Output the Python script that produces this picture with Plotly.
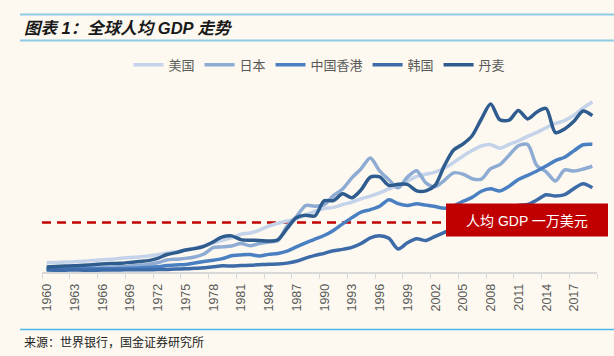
import plotly.graph_objects as go

# ---------------- data (GDP per capita, current US$) ----------------
years = list(range(1960, 2020))

usa = [3007, 3067, 3244, 3375, 3574, 3828, 4146, 4336, 4696, 5032,
       5234, 5609, 6094, 6726, 7226, 7801, 8592, 9453, 10565, 11674,
       12575, 13976, 14434, 15544, 17121, 18237, 19071, 20039, 21417, 22857,
       23889, 24342, 25419, 26387, 27695, 28691, 29968, 31459, 32854, 34515,
       36330, 37134, 37998, 39490, 41725, 44123, 46302, 48050, 48570, 47195,
       48651, 50066, 51784, 53291, 55124, 56763, 57867, 59915, 62805, 65095]

japan = [479, 564, 634, 718, 835, 919, 1059, 1229, 1451, 1669,
         2038, 2272, 2967, 3998, 4354, 4659, 5198, 6335, 8821, 9105,
         9463, 10361, 9578, 10425, 10984, 11585, 17112, 20745, 25052, 24813,
         25359, 28925, 31465, 35766, 39269, 43440, 38437, 35022, 31903, 36027,
         38532, 33846, 32289, 34808, 37689, 37218, 35434, 35275, 39339, 40855,
         44508, 48168, 48603, 40454, 38109, 34524, 38795, 38387, 39159, 40247]

hongkong = [429, 426, 466, 545, 579, 648, 660, 692, 710, 825,
            959, 1102, 1385, 1889, 2110, 2253, 2844, 3418, 3924, 4569,
            5700, 6000, 6130, 5595, 6208, 6543, 7436, 9071, 10610, 12098,
            13486, 15466, 17976, 20396, 22503, 23497, 24818, 27330, 25809, 25092,
            25757, 25230, 24666, 23977, 24928, 26650, 28224, 30594, 31516, 30697,
            32550, 35142, 36731, 38404, 40315, 42432, 43731, 46193, 48543, 48756]

korea = [158, 94, 106, 146, 124, 109, 133, 161, 198, 243,
         279, 301, 324, 406, 563, 616, 834, 1055, 1405, 1783,
         1715, 1883, 1993, 2199, 2413, 2482, 2835, 3555, 4749, 5817,
         6610, 7637, 8127, 8885, 10385, 12565, 13403, 12398, 8282, 10672,
         12257, 11561, 13165, 14673, 16496, 19403, 21743, 24086, 21350, 19144,
         23087, 25096, 25467, 27182, 29250, 28737, 29274, 31601, 33447, 31902]

denmark = [1364, 1504, 1676, 1767, 2013, 2238, 2451, 2640, 2771, 3108,
           3463, 3791, 4662, 6141, 6876, 7870, 8429, 9334, 11014, 12941,
           13354, 11912, 11641, 11591, 11331, 11870, 16223, 20356, 21285, 21032,
           26891, 26938, 29597, 28075, 31153, 36038, 36127, 32830, 33257, 33221,
           30744, 30752, 32891, 40459, 46511, 48800, 52027, 58487, 64322, 58163,
           58041, 61754, 58507, 61191, 62549, 53255, 54664, 57610, 61591, 59775]

series_names = ["美国", "日本", "中国香港", "韩国", "丹麦"]
series_values = [usa, japan, hongkong, korea, denmark]
series_colors = ["#C4D3EA", "#8EABD3", "#4A80C2", "#3D6BA7", "#2F5C8E"]

# reference line, placed where the source draws it
ref_line_x = [1959.5, 2004.0]
ref_line_value = 18500
ref_label = "人均 GDP 一万美元"

tick_labels = [str(y) for y in range(1960, 2020, 3)]
tick_positions = [y - 0.5 for y in range(1960, 2021, 3)]
tick_text = tick_labels + [""]

title_text = "图表 1：全球人均 GDP 走势"
source_text = "来源：世界银行，国金证券研究所"

BG = "#FDF9F0"
CJK = "Noto Sans CJK SC, Noto Sans, sans-serif"

fig = go.Figure()

fig.add_trace(go.Scatter(
    x=ref_line_x, y=[ref_line_value, ref_line_value], mode="lines",
    line=dict(color="#C00000", width=2.5, dash="9px,6px"),
    showlegend=False, hoverinfo="skip"))

for name, vals, col in zip(series_names, series_values, series_colors):
    fig.add_trace(go.Scatter(
        x=years, y=vals, name=name, mode="lines",
        line=dict(color=col, width=3.5, shape="spline", smoothing=0.8)))

fig.update_layout(
    width=614, height=356,
    margin=dict(l=42, r=17, t=91, b=84),
    paper_bgcolor=BG, plot_bgcolor=BG,
    showlegend=True,
    legend=dict(orientation="h", x=0.5, xanchor="center",
                y=1.145, yanchor="middle",
                font=dict(family=CJK, size=13, color="#595959"),
                bgcolor="rgba(0,0,0,0)", itemwidth=30,
                traceorder="normal"),
    xaxis=dict(range=[1959.5, 2019.5], showgrid=False, zeroline=False,
               showline=True, linecolor="#D9D9D9", linewidth=1.5,
               tickmode="array", tickvals=tick_positions, ticktext=tick_text,
               ticks="outside", ticklen=5, tickcolor="#D9D9D9", tickwidth=1,
               tickangle=-90, ticklabelshift=5, ticklabelstandoff=0,
               tickfont=dict(family="Liberation Sans, Arial", size=12.5, color="#595959")),
    yaxis=dict(range=[-600, 69300], showgrid=False, zeroline=False,
               showline=False, showticklabels=False, ticks=""),
    shapes=[
        dict(type="line", xref="paper", yref="paper",
             x0=-22 / 555, x1=1.04, y0=(272.4 - 15) / 181, y1=(272.4 - 15) / 181,
             line=dict(color="#8DCBE6", width=2)),
        dict(type="line", xref="paper", yref="paper",
             x0=-22 / 555, x1=1.04, y0=(272.4 - 41) / 181, y1=(272.4 - 41) / 181,
             line=dict(color="#8DCBE6", width=2)),
        dict(type="line", xref="paper", yref="paper",
             x0=-22 / 555, x1=1.04, y0=(272.4 - 330) / 181, y1=(272.4 - 330) / 181,
             line=dict(color="#4DB6EA", width=1.5)),
        dict(type="rect", xref="paper", yref="paper",
             x0=(446 - 42) / 555, x1=(608 - 42) / 555,
             y0=(272.4 - 237) / 181, y1=(272.4 - 204) / 181,
             fillcolor="#C00000", line=dict(width=0), layer="above"),
    ],
    annotations=[
        dict(text="<b><i>" + title_text + "</i></b>", xref="paper", yref="paper",
             x=-20 / 555, y=(272.4 - 28) / 181, xanchor="left", yanchor="middle",
             showarrow=False,
             font=dict(family="Liberation Sans, Noto Sans CJK SC", size=16.5, color="#1A1A1A")),
        dict(text=source_text, xref="paper", yref="paper",
             x=-20 / 555, y=(272.4 - 342) / 181, xanchor="left", yanchor="middle",
             showarrow=False, font=dict(family=CJK, size=12, color="#222222")),
        dict(text=ref_label, xref="paper", yref="paper",
             x=(527 - 42) / 555, y=(272.4 - 221) / 181, xanchor="center", yanchor="middle",
             showarrow=False, font=dict(family="Liberation Sans, Noto Sans CJK SC", size=14, color="#FFFFFF")),
    ],
)

fig.write_html("out.html", config={"displayModeBar": False},
               post_script="document.body.style.margin='0px';document.body.style.background='" + BG + "';")
